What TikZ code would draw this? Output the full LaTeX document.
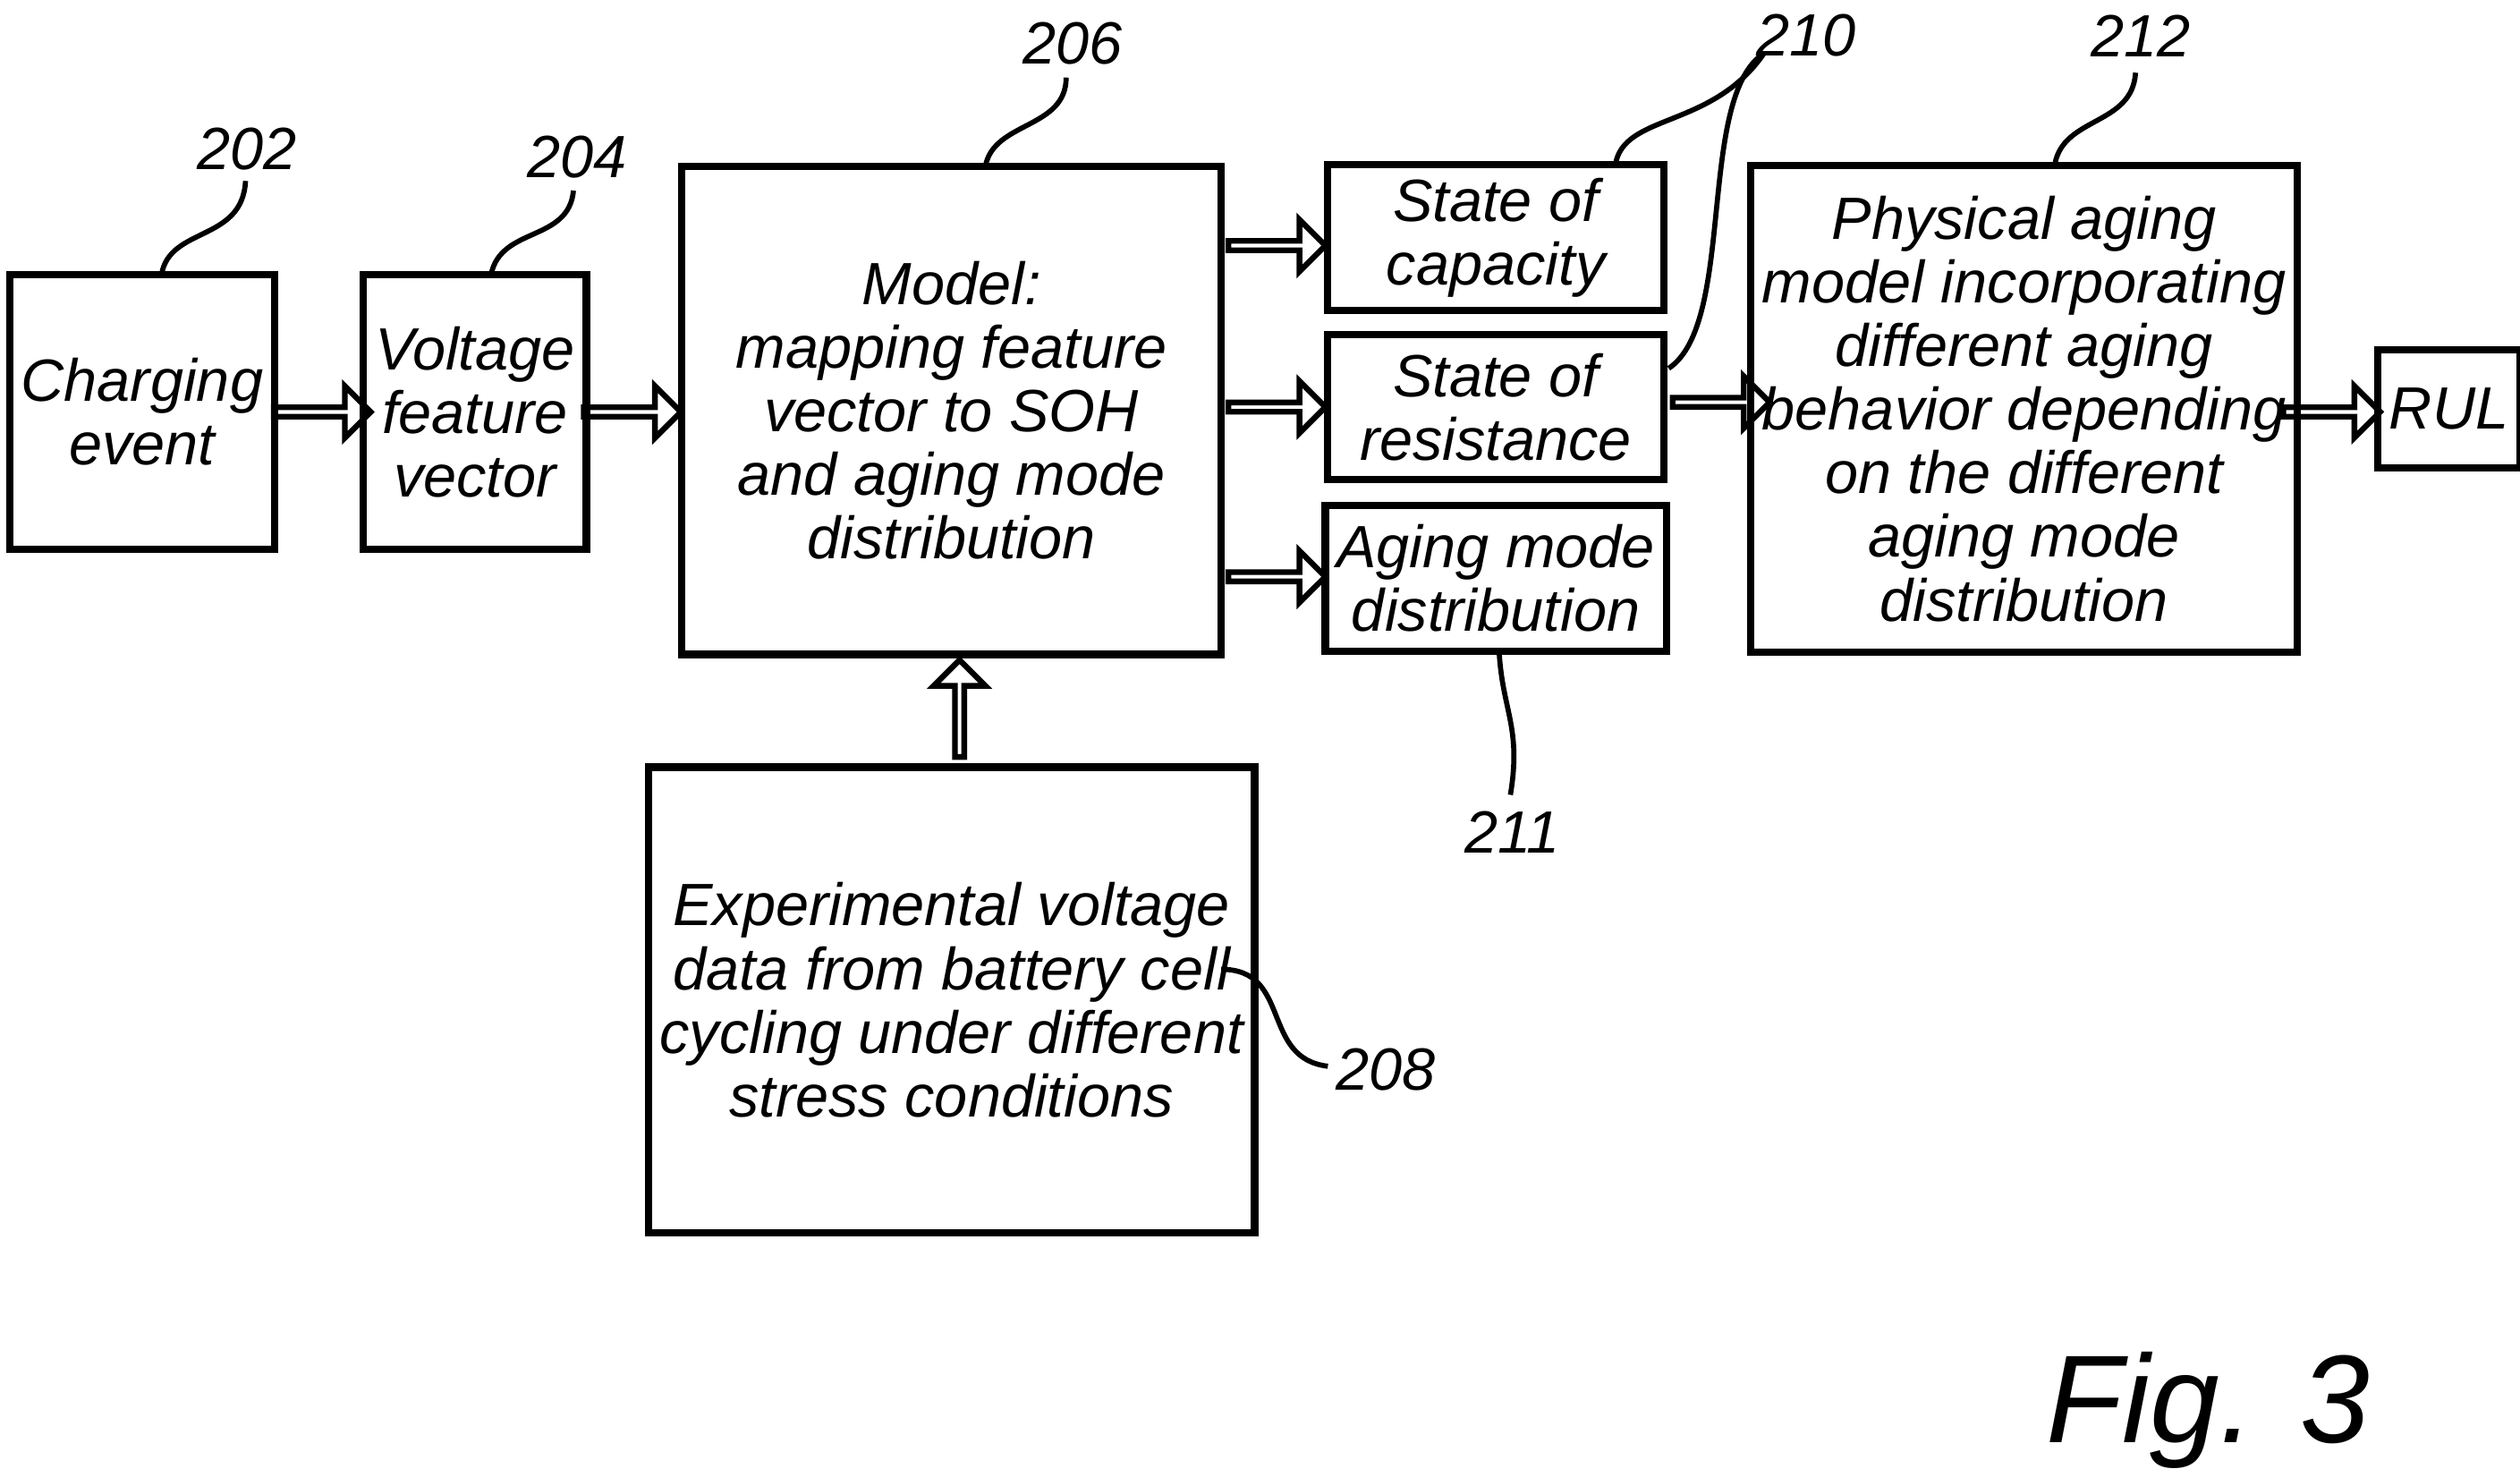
\documentclass[tikz,border=0pt]{standalone}
\usepackage{fontspec}
\setmainfont{Liberation Sans}
\usetikzlibrary{shapes.arrows}
\begin{document}
\begin{tikzpicture}[x=0.01cm,y=-0.01cm,
 box/.style={draw,line width=1.3pt,align=center,font=\itshape\fontsize{10.5}{11.2}\selectfont,inner sep=2pt},
 lbl/.style={font=\itshape\fontsize{10.5}{12}\selectfont},
 lead/.style={line width=0.9pt},
 barr/.style={single arrow,draw,line width=1pt,minimum height=0.6cm,minimum width=0.32cm,single arrow head extend=0.08cm,inner sep=0pt}]
\useasboundingbox (0,0) rectangle (1560,909);
\node[box,minimum width=1.52cm,minimum height=1.70cm] (b202) at (88,255) {Charging\\event};
\node[box,minimum width=1.28cm,minimum height=1.70cm] (b204) at (294,255) {Voltage\\feature\\vector};
\node[box,minimum width=3.34cm,minimum height=3.02cm] (b206) at (589,254) {Model:\\mapping feature\\vector to SOH\\and aging mode\\distribution};
\node[box,minimum width=2.08cm,minimum height=0.90cm] (cap) at (926,147) {State of\\capacity};
\node[box,minimum width=2.08cm,minimum height=0.90cm] (res) at (926,252) {State of\\resistance};
\node[box,minimum width=2.08cm,minimum height=0.90cm] (amd) at (926,358) {Aging mode\\distribution};
\node[box,minimum width=3.10cm,minimum height=3.01cm] (b212) at (1253,253) {Physical aging\\model incorporating\\different aging\\behavior depending\\on the different\\aging mode\\distribution};
\node[box,minimum width=0.80cm,minimum height=0.73cm] (rul) at (1516,253) {RUL};
\node[box,minimum width=3.34cm,minimum height=2.88cm] (b208) at (589,619) {Experimental voltage\\data from battery cell\\cycling under different\\stress conditions};
\node[barr] (a1) at (198,255) {};
\node[barr] (a2) at (390,255) {};
\node[barr] (a3) at (789,152) {};
\node[barr] (a4) at (789,252) {};
\node[barr] (a5) at (789,357) {};
\node[barr] (a6) at (1064,249) {};
\node[barr] (a7) at (1442,255) {};
\node[barr,rotate=90] (a8) at (594,440) {};
\node[lbl] (l202) at (153,92) {202};
\node[lbl] (l204) at (357,97) {204};
\node[lbl] (l206) at (664,27) {206};
\node[lbl] (l210) at (1118,22) {210};
\node[lbl] (l212) at (1325,22) {212};
\node[lbl] (l211) at (936,515) {211};
\node[lbl] (l208) at (858,662) {208};
\coordinate (t202) at (100,170);
\draw[lead] (t202) .. controls (105,140) and (150,150) .. (152,112);
\draw[lead] (304,170) .. controls (310,140) and (352,150) .. (355,118);
\draw[lead] (610,103) .. controls (615,75) and (660,80) .. (660,48);
\draw[lead] (1000,102) .. controls (1005,70) and (1060,80) .. (1092,33);
\draw[lead] (1033,228) .. controls (1075,200) and (1050,60) .. (1092,33);
\draw[lead] (1272,102) .. controls (1277,72) and (1320,78) .. (1322,45);
\draw[lead] (928,403) .. controls (930,440) and (942,450) .. (935,492);
\draw[lead] (756,600) .. controls (800,600) and (780,655) .. (822,660);
\node[font=\itshape\fontsize{22}{24}\selectfont] (fig) at (1367,873) {Fig. 3};
\end{tikzpicture}
\end{document}
